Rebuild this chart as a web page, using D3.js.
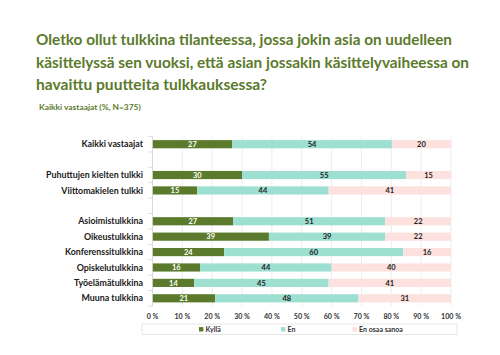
<!DOCTYPE html>
<html><head><meta charset="utf-8">
<script src="https://cdn.jsdelivr.net/npm/d3@7"></script>
<style>body{margin:0;background:#fff}svg{display:block}</style>
</head><body>
<svg id="c" width="500" height="355"></svg>
<script>
const categories = ["Kaikki vastaajat", "", "Puhuttujen kielten tulkki", "Viittomakielen tulkki", " ",
  "Asioimistulkkina", "Oikeustulkkina", "Konferenssitulkkina", "Opiskelutulkkina", "Työelämätulkkina", "Muuna tulkkina"];
const seriesNames = ["Kyllä", "En", "En osaa sanoa"];
const kylla = [27, null, 30, 15, null, 27, 39, 24, 16, 14, 21];
const en = [54, null, 55, 44, null, 51, 39, 60, 44, 45, 48];
const eos = [20, null, 15, 41, null, 22, 22, 16, 40, 41, 31];
const xTicks = [0,10,20,30,40,50,60,70,80,90,100];
const colors = ["#5b7a2b", "#9ddfd1", "#fde1de"];
const labelColors = ["#ffffff", "#222", "#222"];

const svg = d3.select("#c");
const green = "#5b7a2b";
const font = "Lato, 'Open Sans', sans-serif";

// measure helper: font size giving the target width
function fitSize(str, weight, target) {
  const t = svg.append("text").attr("font-family", font).attr("font-weight", weight)
    .attr("font-size", 10).text(str);
  const w = t.node().getComputedTextLength();
  t.remove();
  return w > 0 ? 10 * target / w : 9;
}

// Title
const titleLines = ["Oletko ollut tulkkina tilanteessa, jossa jokin asia on uudelleen",
  "käsittelyssä sen vuoksi, että asian jossakin käsittelyvaiheessa on",
  "havaittu puutteita tulkkauksessa?"];
const titleWidths = [416, 433, 231];
const tSize = Math.min(19, fitSize(titleLines[0], 700, 416));
svg.append("g").selectAll("text").data(titleLines).join("text")
  .attr("x", 36).attr("y", (d,i) => 45.3 + i*22.4)
  .attr("font-family", font).attr("font-weight", 700).attr("font-size", tSize)
  .attr("textLength", (d,i) => titleWidths[i]).attr("lengthAdjust", "spacingAndGlyphs")
  .attr("fill", green).text(d => d);
const subSize = Math.min(10, fitSize("Kaikki vastaajat (%, N=375)", 700, 102));
svg.append("text").attr("x", 39).attr("y", 110)
  .attr("font-family", font).attr("font-weight", 700).attr("font-size", subSize)
  .attr("fill", green).text("Kaikki vastaajat (%, N=375)");

const x = d3.scaleLinear().domain([0, 100]).range([152.5, 451]);
const y = d3.scaleBand().domain(categories.map((c,i)=>i)).range([136.5, 306]).paddingInner(0.47).paddingOuter(0.235);
const stepY = y.step();

// gridlines
svg.append("g").selectAll("line").data(xTicks.slice(1)).join("line")
  .attr("x1", d => x(d)).attr("x2", d => x(d))
  .attr("y1", 136.5).attr("y2", 306)
  .attr("stroke", "#e8e8e8").attr("stroke-width", 0.8);

// rows -> normalized stack
const rows = categories.map((c,i) => ({i, v:[kylla[i], en[i], eos[i]]})).filter(r => r.v[0] != null);
const layer = svg.append("g");
rows.forEach(r => {
  const total = d3.sum(r.v);
  let acc = 0;
  r.v.forEach((v, k) => {
    const x0 = acc / total * 100, x1 = (acc + v) / total * 100;
    acc += v;
    layer.append("rect").attr("x", x(x0)).attr("width", x(x1) - x(x0))
      .attr("y", y(r.i)).attr("height", y.bandwidth()).attr("fill", colors[k]);
    layer.append("text").attr("x", (x(x0)+x(x1))/2).attr("y", y(r.i) + y.bandwidth()/2 + 2.7)
      .attr("text-anchor", "middle").attr("font-family", font).attr("font-weight", 700)
      .attr("font-size", 7.5).attr("fill", labelColors[k]).text(v);
  });
});

// y axis line and ticks
svg.append("line").attr("x1", x(0)).attr("x2", x(0)).attr("y1", 136.5).attr("y2", 306)
  .attr("stroke", "#d0d0d0").attr("stroke-width", 0.8);
const tickYs = d3.range(categories.length + 1).map(i => 136.5 + i*stepY);
svg.append("g").selectAll("line").data(tickYs).join("line")
  .attr("x1", x(0) - 4).attr("x2", x(0)).attr("y1", d => d).attr("y2", d => d)
  .attr("stroke", "#d0d0d0").attr("stroke-width", 0.8);

// category labels
const labSize = Math.min(11, fitSize("Puhuttujen kielten tulkki", 700, 97));
svg.append("g").selectAll("text").data(rows).join("text")
  .attr("x", 143).attr("y", r => y(r.i) + y.bandwidth()/2 + labSize*0.36)
  .attr("text-anchor", "end").attr("font-family", font).attr("font-weight", 700)
  .attr("font-size", labSize).attr("fill", "#1a1a1a").text(r => categories[r.i]);

// x axis labels
const axSize = Math.min(9, fitSize("100 %", 700, 20));
svg.append("g").selectAll("text").data(xTicks).join("text")
  .attr("x", d => x(d)).attr("y", 319).attr("text-anchor", "middle")
  .attr("font-family", font).attr("font-weight", 700).attr("font-size", axSize)
  .attr("fill", "#333").text(d => d + " %");

// legend
svg.append("rect").attr("x", 142).attr("y", 324).attr("width", 315).attr("height", 10.5)
  .attr("fill", "#fff").attr("stroke", "#e0e0e0").attr("stroke-width", 0.8);
const legSize = Math.min(9, fitSize("En osaa sanoa", 700, 44));
const legX = [199, 281, 352.5];
const lg = svg.append("g").selectAll("g").data(seriesNames).join("g")
  .attr("transform", (d,i) => `translate(${legX[i]},329.3)`);
lg.append("rect").attr("x", 0).attr("y", -2.2).attr("width", 4.4).attr("height", 4.4).attr("fill", (d,i)=>colors[i]);
lg.append("text").attr("x", 6.5).attr("y", legSize*0.36).attr("font-family", font).attr("font-weight", 700)
  .attr("font-size", legSize).attr("fill", "#333").text(d => d);
</script>
</body></html>
